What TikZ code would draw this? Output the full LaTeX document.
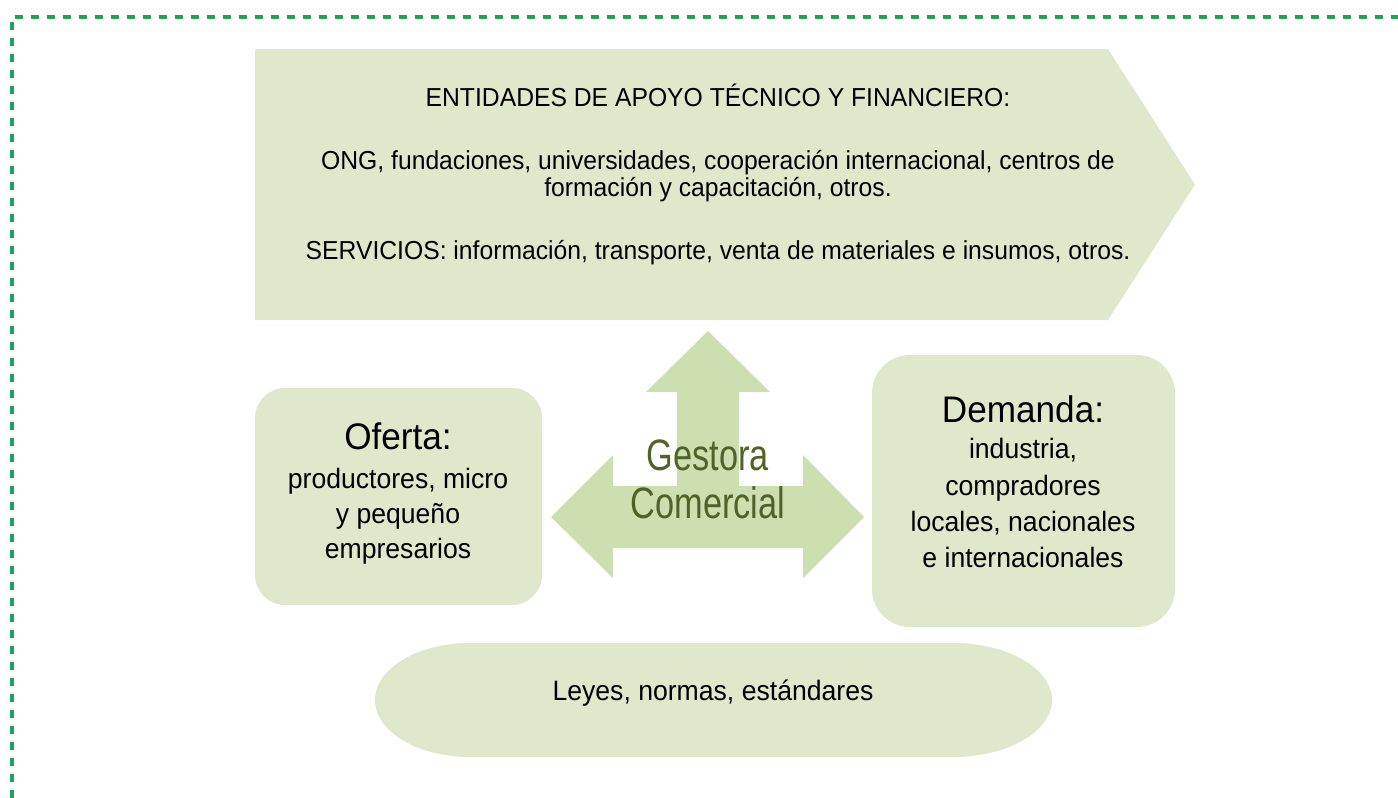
\documentclass[tikz,border=0pt]{standalone}
\usepackage{fontspec}
\setmainfont[FakeStretch=0.95]{Liberation Sans}
\newfontfamily\gestfont[FakeStretch=0.78]{Liberation Sans}
\definecolor{lightg}{RGB}{223,232,203}
\definecolor{arrowg}{RGB}{205,222,176}
\definecolor{dashg}{RGB}{31,165,90}
\definecolor{gesttxt}{RGB}{79,98,40}
\tikzset{
  rbox/.style={fill=lightg, draw=none, inner sep=0pt},
  toptxt/.style={anchor=base, inner sep=0pt, font=\fontsize{26}{30}\selectfont},
  boxtxt/.style={anchor=base, inner sep=0pt, font=\fontsize{28}{32}\selectfont},
  titletxt/.style={anchor=base, inner sep=0pt, font=\fontsize{37}{40}\selectfont},
  gesttxtstyle/.style={anchor=base, inner sep=0pt, text=gesttxt, font=\gestfont\fontsize{44}{48}\selectfont},
  border/.style={draw=dashg, line width=3.2pt, dash pattern=on 8pt off 8pt}
}
\begin{document}
\begin{tikzpicture}[x=1pt,y=-1pt]
\useasboundingbox (0,0) rectangle (1398,798);
% dashed frame
\coordinate (fb) at (12,798);
\coordinate (fc) at (12,17);
\coordinate (fr) at (1398,17);
\draw[border] (fb) -- (fc) -- (fr);

% top pentagon arrow
\fill[lightg] (255,49) -- (1108,49) -- (1195,184.5) -- (1108,320) -- (255,320) -- cycle;
\node[toptxt] (t1) at (718,106) {ENTIDADES DE APOYO TÉCNICO Y FINANCIERO:};
\node[toptxt] (t2) at (718,169) {ONG, fundaciones, universidades, cooperación internacional, centros de};
\node[toptxt] (t3) at (718,196) {formación y capacitación, otros.};
\node[toptxt] (t4) at (718,259) {SERVICIOS: información, transporte, venta de materiales e insumos, otros.};

% oferta box
\node[rbox, minimum width=287pt, minimum height=217pt, rounded corners=30pt] (oferta) at (398.5,496.5) {};
\node[titletxt] (of1) at (398,449) {Oferta:};
\node[boxtxt] (of2) at (398,488) {productores, micro};
\node[boxtxt] (of3) at (398,523) {y pequeño};
\node[boxtxt] (of4) at (398,558) {empresarios};

% demanda box
\node[rbox, minimum width=303pt, minimum height=272pt, rounded corners=38pt] (demanda) at (1023.5,491) {};
\node[titletxt] (de1) at (1023,422) {Demanda:};
\node[boxtxt] (de2) at (1023,458) {industria,};
\node[boxtxt] (de3) at (1023,495) {compradores};
\node[boxtxt] (de4) at (1023,531) {locales, nacionales};
\node[boxtxt] (de5) at (1023,567) {e internacionales};

% leyes shape
\fill[lightg] (470,643) -- (953,643) arc[start angle=-90, end angle=90, x radius=99, y radius=57]
  -- (470,757) arc[start angle=90, end angle=270, x radius=95, y radius=57] -- cycle;
\node[boxtxt] (leyes) at (713,700) {Leyes, normas, estándares};

% gestora triple arrow
\fill[arrowg] (708,331) -- (770,392) -- (739,392) -- (739,486) -- (803,486) -- (803,455)
  -- (864,517) -- (803,578) -- (803,548) -- (613,548) -- (613,578) -- (551,517)
  -- (613,455) -- (613,486) -- (677,486) -- (677,392) -- (646,392) -- cycle;
\node[gesttxtstyle] (g1) at (708,470) {Gestora};
\node[gesttxtstyle] (g2) at (708,518) {Comercial};
\end{tikzpicture}
\end{document}
